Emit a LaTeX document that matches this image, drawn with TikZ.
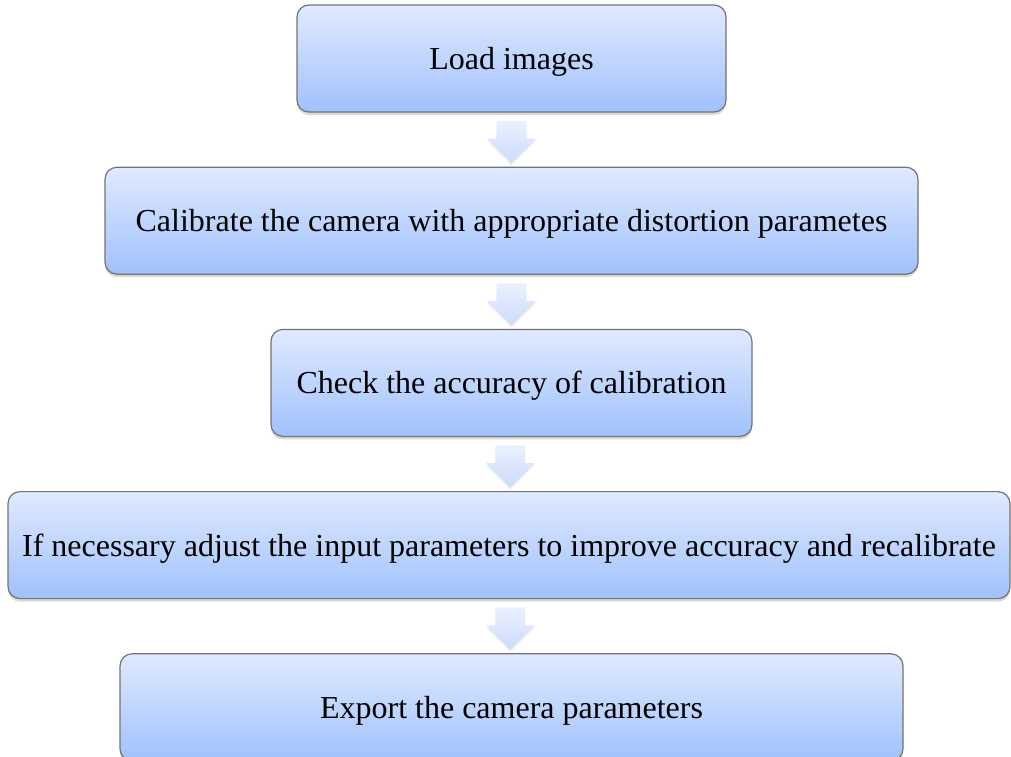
\documentclass[tikz,border=0pt]{standalone}
\usepackage{fontspec}
\setmainfont{Liberation Serif}
\usepackage{xcolor}
\usetikzlibrary{positioning, shapes, arrows, calc, shadows}
\definecolor{boxtop}{RGB}{224, 234, 255}
\definecolor{boxbottom}{RGB}{160, 193, 252}
\definecolor{arrowtop}{RGB}{234, 240, 255}
\definecolor{arrowbottom}{RGB}{204, 219, 252}

\begin{document}
\begin{tikzpicture}[node distance=27pt, auto, >=latex']
    \tikzstyle{stage} = [rectangle, draw=black!55, line width=0.6pt, top color=boxtop, bottom color=boxbottom, rounded corners=6pt, minimum height=53.5pt, text height=12pt, text depth=1pt, align=center, font=\fontsize{16}{19}\selectfont, drop shadow={shadow xshift=0pt, shadow yshift=-1.5pt, opacity=0.3}]
    \tikzstyle{flow} = [single arrow, shape border rotate=270, top color=arrowtop, bottom color=arrowbottom, minimum height=21pt, inner xsep=7.25pt, inner ysep=0pt, single arrow head extend=4.75pt, single arrow head indent=0pt, drop shadow={shadow xshift=0pt, shadow yshift=-1pt, opacity=0.15}]

    \useasboundingbox (0,0) rectangle (505.5pt,-378pt);

    \node[stage, minimum width=214.5pt] (load) at (255.75pt,-29.25pt) {Load images};
    \node[stage, minimum width=406.5pt, below=of load] (calib) {Calibrate the camera with appropriate distortion parametes};
    \node[stage, minimum width=240.5pt, below=of calib] (check) {Check the accuracy of calibration};
    \node[stage, minimum width=501pt, below=of check, xshift=-1.25pt] (adjust) {If necessary adjust the input parameters to improve accuracy and recalibrate};
    \node[stage, minimum width=391.5pt, below=of adjust, xshift=1.25pt] (export) {Export the camera parameters};

    % block arrows between the stages
    \foreach \a/\b in {load/calib, calib/check, check/adjust, adjust/export}
        \node[flow, yshift=2.5pt] (\a-\b) at ($(\a.south)!0.5!(\b.north)$) {};
\end{tikzpicture}
\end{document}
